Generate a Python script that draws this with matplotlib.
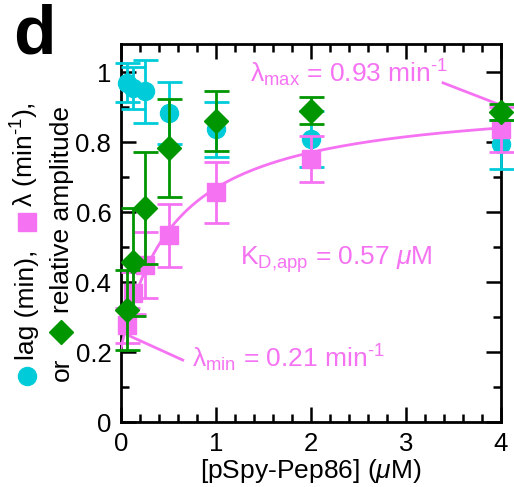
import numpy as np
import matplotlib
matplotlib.use('Agg')
import matplotlib.pyplot as plt
from matplotlib.ticker import MultipleLocator

plt.rcParams['font.family'] = ['Liberation Sans', 'DejaVu Sans']
plt.rcParams['mathtext.fontset'] = 'custom'
plt.rcParams['mathtext.rm'] = 'Liberation Sans'
plt.rcParams['mathtext.it'] = 'Liberation Sans:italic'

CYAN = '#00ccd9'
PINK = '#f573f2'
GREEN = '#009600'

# peptide concentrations (uM), two-fold dilution series
conc = [0.0625, 0.125, 0.25, 0.5, 1, 2, 4]

# lag (min) normalised
lag = [0.97, 0.955, 0.945, 0.883, 0.836, 0.81, 0.793]
lag_err = [0.057, 0.06, 0.09, 0.088, 0.079, 0.08, 0.071]

# lambda (min^-1)
lam = [0.277, 0.369, 0.449, 0.534, 0.656, 0.752, 0.836]
lam_err = [0.05, 0.06, 0.095, 0.09, 0.088, 0.066, 0.065]

# relative amplitude
amp = [0.32, 0.457, 0.611, 0.783, 0.86, 0.89, 0.885]
amp_err = [0.114, 0.155, 0.16, 0.141, 0.086, 0.039, 0.023]

# hyperbolic fit parameters (as annotated)
LAM_MIN = 0.21
LAM_MAX = 0.93
KD_APP = 0.57

INV = '$^{\\text{-}1}$'

fig = plt.figure(figsize=(5.14, 4.87), dpi=100)
ax = fig.add_axes([121 / 514, 65 / 487, 380 / 514, 378 / 487])


def draw_series(x, y, err, marker, ms, color, z):
    cont = ax.errorbar(x, y, yerr=err, fmt=marker, ms=ms, color=color,
                       mec=color, mfc=color, ecolor=color, elinewidth=2,
                       capsize=9, capthick=2, zorder=z)
    for art in cont.lines[1] + cont.lines[2] + (cont.lines[0],):
        art.set_clip_on(False)
    return cont


draw_series(conc, lag, lag_err, 'o', 13, CYAN, 3)

# fitted curve for lambda
xfit = np.linspace(0, 4, 200)
yfit = LAM_MIN + (LAM_MAX - LAM_MIN) * xfit / (KD_APP + xfit)
ax.plot(xfit, yfit, color=PINK, lw=2, zorder=4)
draw_series(conc, lam, lam_err, 's', 12.5, PINK, 5)

draw_series(conc, amp, amp_err, 'D', 12, GREEN, 6)

ax.set_xlim(0, 4)
ax.set_ylim(0, 1.08)
ax.xaxis.set_major_locator(MultipleLocator(1))
ax.xaxis.set_minor_locator(MultipleLocator(0.2))
ax.yaxis.set_minor_locator(MultipleLocator(0.1))
ax.set_yticks([0, 0.2, 0.4, 0.6, 0.8, 1.0])
ax.set_yticklabels(['0', '0.2', '0.4', '0.6', '0.8', '1'])
ax.tick_params(which='both', direction='in', top=True, right=True,
               labelsize=18.5, width=1.8, pad=7)
ax.tick_params(which='major', length=11)
ax.tick_params(which='minor', length=5.5)
for sp in ax.spines.values():
    sp.set_linewidth(2)

ax.set_xlabel('[pSpy-Pep86] ($\\mu$M)', fontsize=19, labelpad=1)

# annotations
ax.text(1.358, 0.969, 'λ$_{\\text{max}}$ = 0.93 min' + INV, color=PINK,
        fontsize=19, ha='left', va='baseline')
ax.plot([3.39, 4.0], [0.969, 0.905], color=PINK, lw=2, zorder=2, clip_on=False)
ax.text(1.253, 0.449, 'K$_{\\text{D,app}}$ = 0.57 $\\mu$M', color=PINK,
        fontsize=19, ha='left', va='baseline')
ax.text(0.747, 0.157, 'λ$_{\\text{min}}$ = 0.21 min' + INV, color=PINK,
        fontsize=19, ha='left', va='baseline')
ax.plot([0.09, 0.65], [0.246, 0.177], color=PINK, lw=2, zorder=2)


def fpx(x, y):
    return x / 514, (487 - y) / 487


def ytext(x, y, s):
    fx, fy = fpx(x, y)
    fig.text(fx, fy, s, rotation=90, rotation_mode='anchor', ha='left',
             va='baseline', fontsize=19, color='black')


def ymark(x, y, marker, ms, color):
    fx, fy = fpx(x, y)
    fig.add_artist(plt.Line2D([fx], [fy], marker=marker, ms=ms, color=color,
                              transform=fig.transFigure))


ymark(27, 376, 'o', 13, CYAN)
ytext(34, 360, 'lag (min),')
ymark(27, 222, 's', 12.5, PINK)
ytext(34, 207, 'λ (min' + INV + '),')
ytext(69, 381, 'or')
ymark(61, 332, 'D', 12, GREEN)
ytext(69, 313, 'relative amplitude')

fx, fy = fpx(13, 53)
fig.text(fx, fy, 'd', fontsize=50, fontweight='bold', ha='left',
         va='baseline')

fig.savefig('out.png', dpi=100)
